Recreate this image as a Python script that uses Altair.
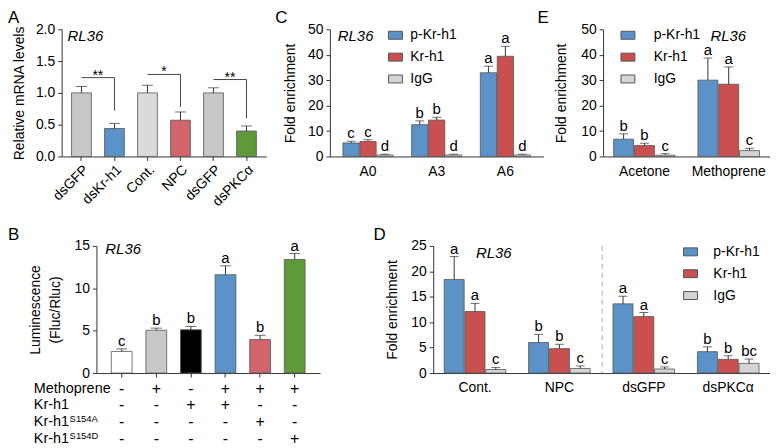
import altair as alt
import pandas as pd

FONT = "Liberation Sans"
BLUE = "#5b93c9"
RED = "#c9504f"
IGG = "#d4d4d4"
EDGE = "#555555"
ERRC = "#333333"

# ---------------- Panel A ----------------
A_keys = ["dsGFP", "dsKr-h1", "Cont.", "NPC", "dsGFP ", "dsPKCα"]
A_values = [1.0, 0.44, 1.0, 0.57, 1.0, 0.40]
A_errors = [0.10, 0.08, 0.12, 0.13, 0.08, 0.08]
A_colors = ["#c8c8c8", BLUE, "#dadada", "#d2646b", "#c8c8c8", "#5e9a3a"]
A_sig_left = ["dsGFP", "Cont.", "dsGFP "]
A_sig_right = ["dsKr-h1", "NPC", "dsPKCα"]
A_sig_height = [1.24, 1.29, 1.21]
A_sig_drop = [0.72, 0.78, 0.60]
A_sig_text = ["**", "*", "**"]

# ---------------- Panel B ----------------
B_keys = ["b1", "b2", "b3", "b4", "b5", "b6"]
B_values = [2.55, 5.05, 5.1, 11.6, 3.95, 13.4]
B_errors = [0.3, 0.25, 0.4, 1.05, 0.5, 0.7]
B_colors = ["#ffffff", "#c8c8c8", "#000000", BLUE, "#d2646b", "#5e9a3a"]
B_letters = ["c", "b", "b", "a", "b", "a"]
B_row_keys = ["Methoprene", "Kr-h1", "Kr-h1S154A", "Kr-h1S154D"]
B_row_main = ["Methoprene", "Kr-h1", "Kr-h1", "Kr-h1"]
B_row_sup = ["", "", "S154A", "S154D"]
B_signs = [
    ["-", "+", "-", "+", "+", "+"],
    ["-", "-", "+", "+", "-", "-"],
    ["-", "-", "-", "-", "+", "-"],
    ["-", "-", "-", "-", "-", "+"],
]

# ---------------- Panels C, D, E ----------------
series = ["p-Kr-h1", "Kr-h1", "IgG"]
series_colors = [BLUE, RED, IGG]

C_groups = ["A0", "A3", "A6"]
C_p = [5.3, 12.5, 32.9]
C_p_err = [0.7, 1.5, 2.6]
C_k = [5.9, 14.3, 39.4]
C_k_err = [0.7, 1.1, 3.9]
C_i = [0.6, 0.6, 0.6]
C_i_err = [0.3, 0.3, 0.3]
C_p_let = ["c", "b", "a"]
C_k_let = ["c", "b", "a"]
C_i_let = ["d", "d", "d"]

E_groups = ["Acetone", "Methoprene"]
E_p = [6.8, 30.0]
E_p_err = [2.1, 8.7]
E_k = [4.3, 28.4]
E_k_err = [0.9, 6.8]
E_i = [0.5, 2.3]
E_i_err = [0.6, 0.9]
E_p_let = ["b", "a"]
E_k_let = ["b", "a"]
E_i_let = ["c", "c"]

D_groups = ["Cont.", "NPC", "dsGFP", "dsPKCα"]
D_p = [18.4, 6.0, 13.6, 4.2]
D_p_err = [4.5, 1.6, 1.5, 0.95]
D_k = [12.1, 4.8, 11.1, 2.7]
D_k_err = [1.6, 0.85, 0.8, 0.7]
D_i = [0.7, 0.9, 0.8, 1.9]
D_i_err = [0.4, 0.5, 0.4, 0.85]
D_p_let = ["a", "b", "a", "b"]
D_k_let = ["a", "b", "a", "b"]
D_i_let = ["c", "c", "c", "bc"]

one = pd.DataFrame({"a": [0]})


def ann(text, x, y, size=14, italic=False, align="left", baseline="middle"):
    return alt.Chart(one).mark_text(
        text=text, fontSize=size, fontStyle="italic" if italic else "normal",
        align=align, baseline=baseline, font=FONT, color="black"
    ).encode(x=alt.value(x), y=alt.value(y))


def yaxis(title, values, fmt, tp):
    return alt.Axis(title=title, values=values, format=fmt, titlePadding=tp)


# ---------------- build A ----------------
dfA = pd.DataFrame({"cat": A_keys, "val": A_values, "err": A_errors, "col": A_colors})
dfA["top"] = dfA["val"] + dfA["err"]
axA_y = yaxis("Relative mRNA levels", [0, 0.5, 1, 1.5, 2], ".1f", 9)
sA = alt.Scale(domain=[0, 2])
xA = alt.X("cat:N", sort=A_keys, scale=alt.Scale(paddingInner=0.4, paddingOuter=0.3),
           axis=alt.Axis(title=None, labelAngle=-45, labelExpr="trim(datum.value)", labelPadding=2))
barsA = alt.Chart(dfA).mark_bar(stroke=EDGE, strokeWidth=0.8).encode(
    x=xA, y=alt.Y("val:Q", scale=sA, axis=axA_y), fill=alt.Fill("col:N", scale=None))
ruleA = alt.Chart(dfA).mark_rule(color=ERRC, strokeWidth=1).encode(
    x=xA, y=alt.Y("val:Q", scale=sA, axis=axA_y), y2="top:Q")
capA = alt.Chart(dfA).mark_tick(color=ERRC, size=11, thickness=1).encode(
    x=xA, y=alt.Y("top:Q", scale=sA, axis=axA_y))
br_rows = []
for i in range(3):
    br_rows.append({"br": i, "o": 0, "cat": A_sig_left[i], "y": A_sig_height[i]})
    br_rows.append({"br": i, "o": 1, "cat": A_sig_right[i], "y": A_sig_height[i]})
    br_rows.append({"br": i, "o": 2, "cat": A_sig_right[i], "y": A_sig_drop[i]})
dfBr = pd.DataFrame(br_rows)
brA = alt.Chart(dfBr).mark_line(color="#444", strokeWidth=1).encode(
    x=xA, y=alt.Y("y:Q", scale=sA, axis=axA_y), detail="br:N", order="o:Q")
dfStar = pd.DataFrame({"cat": A_sig_left, "y": A_sig_height, "t": A_sig_text})
starA = alt.Chart(dfStar).mark_text(fontSize=14, dx=16.5, dy=2, baseline="alphabetic", font=FONT, color="black").encode(
    x=xA, y=alt.Y("y:Q", scale=sA, axis=axA_y), text="t:N")
panelA = alt.layer(
    barsA, ruleA, capA, brA, starA,
    ann("RL36", 6, 7, size=15, italic=True),
    ann("A", -54, -19, size=17, baseline="top"),
).properties(width=206, height=128)

# ---------------- build B ----------------
dfB = pd.DataFrame({"cat": B_keys, "val": B_values, "err": B_errors, "col": B_colors, "let": B_letters})
dfB["top"] = dfB["val"] + dfB["err"]
sB = alt.Scale(domain=[0, 15])
axB_y = yaxis(["Luminescence", "(Fluc/Rluc)"], [0, 5, 10, 15], "d", 12)
xB = alt.X("cat:N", sort=B_keys, scale=alt.Scale(paddingInner=0.4, paddingOuter=0.43),
           axis=alt.Axis(title=None, labels=False))
barsB = alt.Chart(dfB).mark_bar(stroke=EDGE, strokeWidth=0.8).encode(
    x=xB, y=alt.Y("val:Q", scale=sB, axis=axB_y), fill=alt.Fill("col:N", scale=None))
ruleB = alt.Chart(dfB).mark_rule(color=ERRC, strokeWidth=1).encode(
    x=xB, y=alt.Y("val:Q", scale=sB, axis=axB_y), y2="top:Q")
capB = alt.Chart(dfB).mark_tick(color=ERRC, size=11, thickness=1).encode(
    x=xB, y=alt.Y("top:Q", scale=sB, axis=axB_y))
letB = alt.Chart(dfB).mark_text(fontSize=15, dy=-3, baseline="alphabetic", font=FONT, color="black").encode(
    x=xB, y=alt.Y("top:Q", scale=sB, axis=axB_y), text="let:N")
mainB = alt.layer(barsB, ruleB, capB, letB,
                  ann("RL36", 9, 3, size=15, italic=True),
                  ann("B", -89, -19, size=17, baseline="top"))
sign_rows = []
for r, key in enumerate(B_row_keys):
    for c, k in enumerate(B_keys):
        sign_rows.append({"row": key, "cat": k, "s": B_signs[r][c]})
dfSign = pd.DataFrame(sign_rows)
dfRow = pd.DataFrame({"row": B_row_keys, "main": B_row_main, "sup": B_row_sup})
yRow = alt.Y("row:N", sort=B_row_keys,
             scale=alt.Scale(domain=B_row_keys, range=[144, 194], padding=0), axis=None)
signsB = alt.Chart(dfSign).mark_text(fontSize=16, font=FONT, color="black", baseline="middle").encode(
    x=xB, y=yRow, text="s:N")
rowLab = alt.Chart(dfRow).mark_text(fontSize=14.5, font=FONT, color="black", align="left", baseline="middle").encode(
    x=alt.value(-63), y=yRow, text="main:N")
rowSup = alt.Chart(dfRow).mark_text(fontSize=9.5, font=FONT, color="black", align="left", baseline="middle", dy=-3).encode(
    x=alt.value(-27), y=yRow, text="sup:N")
tableB = alt.layer(signsB, rowLab, rowSup)
panelB = alt.layer(mainB, tableB).resolve_scale(y="independent").properties(width=225, height=128)


# ---------------- grouped panels ----------------
def grouped(groups, p, pe, k, ke, i, ie, pl, kl, il, ymax, yvals, width, po,
            legx, legy, legoff, title_pad):
    rows = []
    for g in range(len(groups)):
        rows.append({"grp": groups[g], "ser": series[0], "val": p[g], "err": pe[g], "let": pl[g]})
        rows.append({"grp": groups[g], "ser": series[1], "val": k[g], "err": ke[g], "let": kl[g]})
        rows.append({"grp": groups[g], "ser": series[2], "val": i[g], "err": ie[g], "let": il[g]})
    df = pd.DataFrame(rows)
    df["top"] = df["val"] + df["err"]
    sY = alt.Scale(domain=[0, ymax])
    ax = yaxis("Fold enrichment", yvals, "d", title_pad)
    x = alt.X("grp:N", sort=groups, scale=alt.Scale(paddingInner=0.27, paddingOuter=po),
              axis=alt.Axis(title=None, ticks=False, labelPadding=8, labelAngle=0))
    xo = alt.XOffset("ser:N", sort=series, scale=alt.Scale(paddingInner=0.04, paddingOuter=0))
    bars = alt.Chart(df).mark_bar(stroke=EDGE, strokeWidth=0.8).encode(
        x=x, xOffset=xo, y=alt.Y("val:Q", scale=sY, axis=ax),
        fill=alt.Fill("ser:N", sort=series, scale=alt.Scale(domain=series, range=series_colors),
                      legend=alt.Legend(title=None, orient="none", legendX=legx, legendY=legy,
                                        symbolType="M-1.75,-1H1.75V1H-1.75Z", symbolSize=64,
                                        symbolStrokeColor=EDGE, symbolStrokeWidth=1,
                                        labelFontSize=14, labelFont=FONT, labelColor="black",
                                        labelOffset=legoff, rowPadding=8, padding=0)))
    rule = alt.Chart(df).mark_rule(color=ERRC, strokeWidth=1).encode(
        x=x, xOffset=xo, y=alt.Y("val:Q", scale=sY, axis=ax), y2="top:Q")
    cap = alt.Chart(df).mark_tick(color=ERRC, size=9, thickness=1).encode(
        x=x, xOffset=xo, y=alt.Y("top:Q", scale=sY, axis=ax))
    let = alt.Chart(df).mark_text(fontSize=15, dy=-3, baseline="alphabetic", font=FONT, color="black").encode(
        x=x, xOffset=xo, y=alt.Y("top:Q", scale=sY, axis=ax), text="let:N")
    return [bars, rule, cap, let]


panelC = alt.layer(
    *grouped(C_groups, C_p, C_p_err, C_k, C_k_err, C_i, C_i_err, C_p_let, C_k_let, C_i_let,
             50, [0, 10, 20, 30, 40, 50], 215, 0.19, 59, -1, 8, 10),
    ann("RL36", 8, 7, size=15, italic=True),
    ann("C", -55, -19, size=17, baseline="top"),
).properties(width=215, height=128)

panelE = alt.layer(
    *grouped(E_groups, E_p, E_p_err, E_k, E_k_err, E_i, E_i_err, E_p_let, E_k_let, E_i_let,
             50, [0, 10, 20, 30, 40, 50], 168, 0.125, 18, -1, 19, 12),
    ann("RL36", 108, 7, size=15, italic=True),
    ann("E", -66, -19, size=17, baseline="top"),
).properties(width=168, height=128)

dash = alt.Chart(one).mark_rule(color="#aaaaaa", strokeDash=[5, 4], strokeWidth=1).encode(
    x=alt.value(170), y=alt.value(0), y2=alt.value(128))
panelD = alt.layer(
    *grouped(D_groups, D_p, D_p_err, D_k, D_k_err, D_i, D_i_err, D_p_let, D_k_let, D_i_let,
             25, [0, 5, 10, 15, 20, 25], 339, 0.13, 252, -1, 16, 11),
    dash,
    ann("RL36", 43, 7, size=15, italic=True),
    ann("D", -60, -19, size=17, baseline="top"),
).properties(width=339, height=128)

spacer = alt.Chart(one).mark_point(opacity=0).encode(
    x=alt.X("a:Q", axis=None), y=alt.Y("a:Q", axis=None)).properties(width=15, height=128)

RES = dict(x="independent", y="independent", fill="independent", xOffset="independent")

top = alt.hconcat(
    panelA,
    alt.hconcat(panelC, panelE, spacing=60, bounds="flush").resolve_scale(**RES).resolve_legend(fill="independent"),
    spacing=64, bounds="flush",
).resolve_scale(**RES).resolve_legend(fill="independent")

bottom = alt.hconcat(
    spacer,
    alt.hconcat(panelB, panelD, spacing=114, bounds="flush").resolve_scale(**RES).resolve_legend(fill="independent"),
    spacing=20, bounds="flush",
).resolve_scale(**RES).resolve_legend(fill="independent")

chart = alt.vconcat(top, bottom, spacing=218, bounds="flush").resolve_scale(**RES).resolve_legend(
    fill="independent").properties(padding=0).configure_view(stroke=None).configure_axis(
    grid=False, domainColor="#333333", tickColor="#333333", tickSize=4, labelFontSize=14,
    titleFontSize=14, titleFontWeight="normal", labelPadding=3, labelColor="black",
    titleColor="black", labelFont=FONT, titleFont=FONT, titleLineHeight=20,
).configure_text(font=FONT)

chart.save("out.html", embed_options={"renderer": "svg", "actions": False})
